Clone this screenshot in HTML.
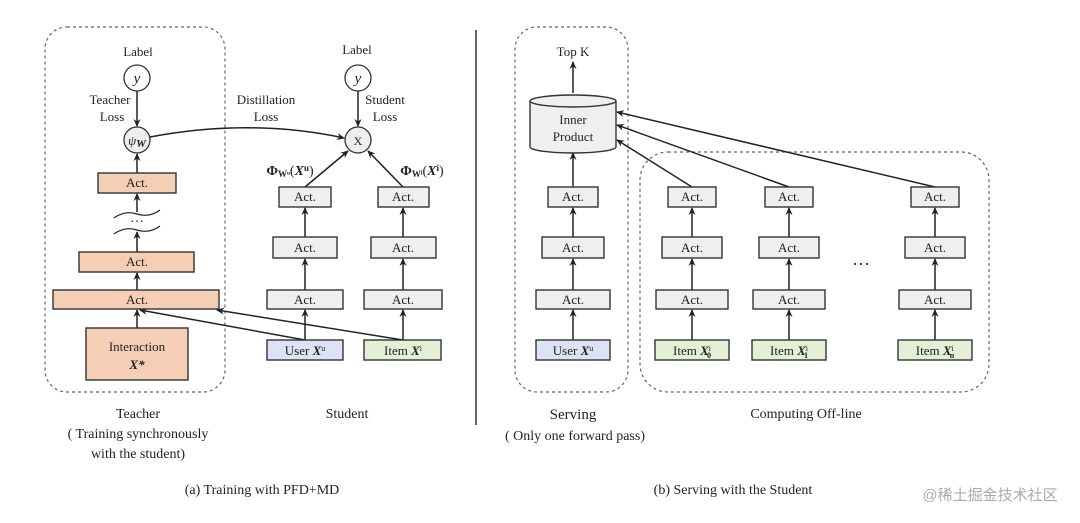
<!DOCTYPE html>
<html><head><meta charset="utf-8"><style>
html,body{margin:0;padding:0;background:#fff;}
svg{display:block;font-family:"Liberation Serif",serif;}
</style></head><body>
<svg width="1080" height="523" viewBox="0 0 1080 523" xmlns="http://www.w3.org/2000/svg">
<defs>
<marker id="a" markerWidth="8" markerHeight="8" refX="7" refY="4" orient="auto" markerUnits="userSpaceOnUse">
<path d="M0,0.5 L8,4 L0,7.5 L2.5,4 Z" fill="#222"/></marker>
</defs>
<g fill="none" stroke="#666" stroke-width="1.2" stroke-dasharray="3,3">
<rect x="45" y="27" width="180" height="365" rx="22"/>
<rect x="515" y="27" width="113" height="365" rx="22"/>
<rect x="640" y="152" width="349" height="240" rx="28"/>
</g>
<line x1="476" y1="30" x2="476" y2="425" stroke="#333" stroke-width="1.5"/>
<g stroke="#222" stroke-width="1.5" fill="none" marker-end="url(#a)">
<line x1="137" y1="91" x2="137" y2="126"/>
<line x1="137" y1="173" x2="137" y2="154"/>
<line x1="137" y1="212" x2="137" y2="194"/>
<line x1="137" y1="252" x2="137" y2="232"/>
<line x1="137" y1="290" x2="137" y2="273"/>
<line x1="137" y1="328" x2="137" y2="310"/>
<line x1="305" y1="340" x2="140" y2="310"/>
<line x1="403" y1="340" x2="217" y2="310"/>
<path d="M150,137 Q250,118 344,138"/>
<line x1="358" y1="91" x2="358" y2="126"/>
<line x1="305" y1="187" x2="348" y2="151"/>
<line x1="403" y1="187" x2="368" y2="151"/>
<line x1="305" y1="237" x2="305" y2="208"/>
<line x1="305" y1="290" x2="305" y2="259"/>
<line x1="305" y1="340" x2="305" y2="310"/>
<line x1="403" y1="237" x2="403" y2="208"/>
<line x1="403" y1="290" x2="403" y2="259"/>
<line x1="403" y1="340" x2="403" y2="310"/>
<line x1="573" y1="93" x2="573" y2="62"/>
<line x1="573" y1="187" x2="573" y2="153"/>
<line x1="573" y1="237" x2="573" y2="208"/>
<line x1="573" y1="290" x2="573" y2="259"/>
<line x1="573" y1="340" x2="573" y2="310"/>
<line x1="692" y1="187" x2="617" y2="140"/>
<line x1="789" y1="187" x2="617" y2="125"/>
<line x1="935" y1="187" x2="617" y2="112"/>
<line x1="692" y1="237" x2="692" y2="208"/><line x1="692" y1="290" x2="692" y2="259"/><line x1="692" y1="340" x2="692" y2="310"/>
<line x1="789" y1="237" x2="789" y2="208"/><line x1="789" y1="290" x2="789" y2="259"/><line x1="789" y1="340" x2="789" y2="310"/>
<line x1="935" y1="237" x2="935" y2="208"/><line x1="935" y1="290" x2="935" y2="259"/><line x1="935" y1="340" x2="935" y2="310"/>
</g>
<g stroke="#222" stroke-width="1.2" fill="none">
<path d="M114,218 Q125,210 137,214 Q149,218 160,210"/>
<path d="M114,234 Q125,226 137,230 Q149,234 160,226"/>
</g>
<text x="137" y="226" font-size="14" text-anchor="middle" fill="#222">···</text>
<g stroke="#333" stroke-width="1.3">
<circle cx="137" cy="78" r="13" fill="#fff"/>
<circle cx="137" cy="140" r="13" fill="#eee"/>
<circle cx="358" cy="78" r="13" fill="#fff"/>
<circle cx="358" cy="140" r="13" fill="#eee"/>
</g>
<g stroke="#333" stroke-width="1.4">
<g fill="#f4cfb5">
<rect x="98" y="173" width="78" height="20"/>
<rect x="79" y="252" width="115" height="20"/>
<rect x="53" y="290" width="166" height="19"/>
<rect x="86" y="328" width="102" height="52"/>
</g>
<g fill="#efefef">
<rect x="279" y="187" width="52" height="20"/><rect x="273" y="237" width="64" height="21"/><rect x="267" y="290" width="76" height="19"/>
<rect x="378" y="187" width="51" height="20"/><rect x="371" y="237" width="65" height="21"/><rect x="364" y="290" width="78" height="19"/>
<rect x="548" y="187" width="50" height="20"/><rect x="542" y="237" width="62" height="21"/><rect x="536" y="290" width="74" height="19"/>
<rect x="668" y="187" width="48" height="20"/><rect x="662" y="237" width="60" height="21"/><rect x="656" y="290" width="72" height="19"/>
<rect x="765" y="187" width="48" height="20"/><rect x="759" y="237" width="60" height="21"/><rect x="753" y="290" width="72" height="19"/>
<rect x="911" y="187" width="48" height="20"/><rect x="905" y="237" width="60" height="21"/><rect x="899" y="290" width="72" height="19"/>
</g>
<rect x="267" y="340" width="76" height="20" fill="#dde2f4"/>
<rect x="536" y="340" width="74" height="20" fill="#dde2f4"/>
<g fill="#e5efd6">
<rect x="364" y="340" width="77" height="20"/>
<rect x="655" y="340" width="74" height="20"/>
<rect x="752" y="340" width="74" height="20"/>
<rect x="898" y="340" width="74" height="20"/>
</g>
<path d="M530,101 L530,147 A43,6 0 0 0 616,147 L616,101" fill="#efefef"/>
<ellipse cx="573" cy="101" rx="43" ry="6" fill="#efefef"/>
</g>
<g font-size="13" fill="#222" text-anchor="middle">
<text x="138" y="56">Label</text>
<text x="357" y="54">Label</text>
<text x="137" y="83" font-style="italic" font-size="15">y</text>
<text x="358" y="83" font-style="italic" font-size="15">y</text>
<text x="137" y="145" font-style="italic" font-size="13">ψ<tspan font-weight="bold" font-size="11" dy="2">W</tspan></text>
<text x="358" y="145" font-size="12">X</text>
<text x="110" y="104">Teacher</text><text x="112" y="121">Loss</text>
<text x="266" y="104">Distillation</text><text x="266" y="121">Loss</text>
<text x="385" y="104">Student</text><text x="385" y="121">Loss</text>
<text x="290" y="175" font-weight="bold" font-size="14">Φ<tspan font-size="9" dy="2">Wᵘ</tspan><tspan dy="-2" font-weight="normal">(</tspan><tspan font-style="italic">X</tspan><tspan font-size="9" dy="-4">u</tspan><tspan dy="4" font-weight="normal">)</tspan></text>
<text x="422" y="175" font-weight="bold" font-size="14">Φ<tspan font-size="9" dy="2">Wⁱ</tspan><tspan dy="-2" font-weight="normal">(</tspan><tspan font-style="italic">X</tspan><tspan font-size="9" dy="-4">i</tspan><tspan dy="4" font-weight="normal">)</tspan></text>
<text x="137" y="187">Act.</text><text x="137" y="266">Act.</text><text x="137" y="304">Act.</text>
<text x="137" y="351">Interaction</text><text x="137" y="369" font-style="italic" font-weight="bold">X*</text>
<text x="305" y="201">Act.</text><text x="305" y="252">Act.</text><text x="305" y="304">Act.</text>
<text x="403" y="201">Act.</text><text x="403" y="252">Act.</text><text x="403" y="304">Act.</text>
<text x="305" y="355">User <tspan font-style="italic" font-weight="bold">X</tspan><tspan font-size="8" dy="-4">u</tspan></text>
<text x="403" y="355">Item <tspan font-style="italic" font-weight="bold">X</tspan><tspan font-size="8" dy="-4">i</tspan></text>
<text x="573" y="56">Top K</text>
<text x="573" y="124">Inner</text><text x="573" y="141">Product</text>
<text x="573" y="201">Act.</text><text x="573" y="252">Act.</text><text x="573" y="304">Act.</text>
<text x="573" y="355">User <tspan font-style="italic" font-weight="bold">X</tspan><tspan font-size="8" dy="-4">u</tspan></text>
<text x="692" y="201">Act.</text><text x="692" y="252">Act.</text><text x="692" y="304">Act.</text>
<text x="789" y="201">Act.</text><text x="789" y="252">Act.</text><text x="789" y="304">Act.</text>
<text x="935" y="201">Act.</text><text x="935" y="252">Act.</text><text x="935" y="304">Act.</text>
<text x="692" y="355">Item <tspan font-style="italic" font-weight="bold">X</tspan><tspan font-size="8" dy="-4">i</tspan><tspan font-size="8" dy="7" dx="-4" font-weight="bold">0</tspan></text>
<text x="789" y="355">Item <tspan font-style="italic" font-weight="bold">X</tspan><tspan font-size="8" dy="-4">i</tspan><tspan font-size="8" dy="7" dx="-4" font-weight="bold">1</tspan></text>
<text x="935" y="355">Item <tspan font-style="italic" font-weight="bold">X</tspan><tspan font-size="8" dy="-4">i</tspan><tspan font-size="8" dy="7" dx="-4" font-weight="bold">n</tspan></text>
<text x="861" y="270" font-size="18">···</text>
</g>
<g font-size="14" fill="#222" text-anchor="middle">
<text x="138" y="418">Teacher</text>
<text x="138" y="438">( Training synchronously</text>
<text x="138" y="458">with the student)</text>
<text x="347" y="418">Student</text>
<text x="573" y="419" font-size="15">Serving</text>
<text x="575" y="440">( Only one forward pass)</text>
<text x="806" y="418">Computing Off-line</text>
<text x="262" y="494">(a) Training with PFD+MD</text>
<text x="733" y="494">(b) Serving with the Student</text>
</g>
<text x="990" y="500" font-size="15" fill="#aaa" text-anchor="middle" font-family="'Liberation Sans','Noto Sans CJK SC',sans-serif">@稀土掘金技术社区</text>
</svg>
</body></html>
